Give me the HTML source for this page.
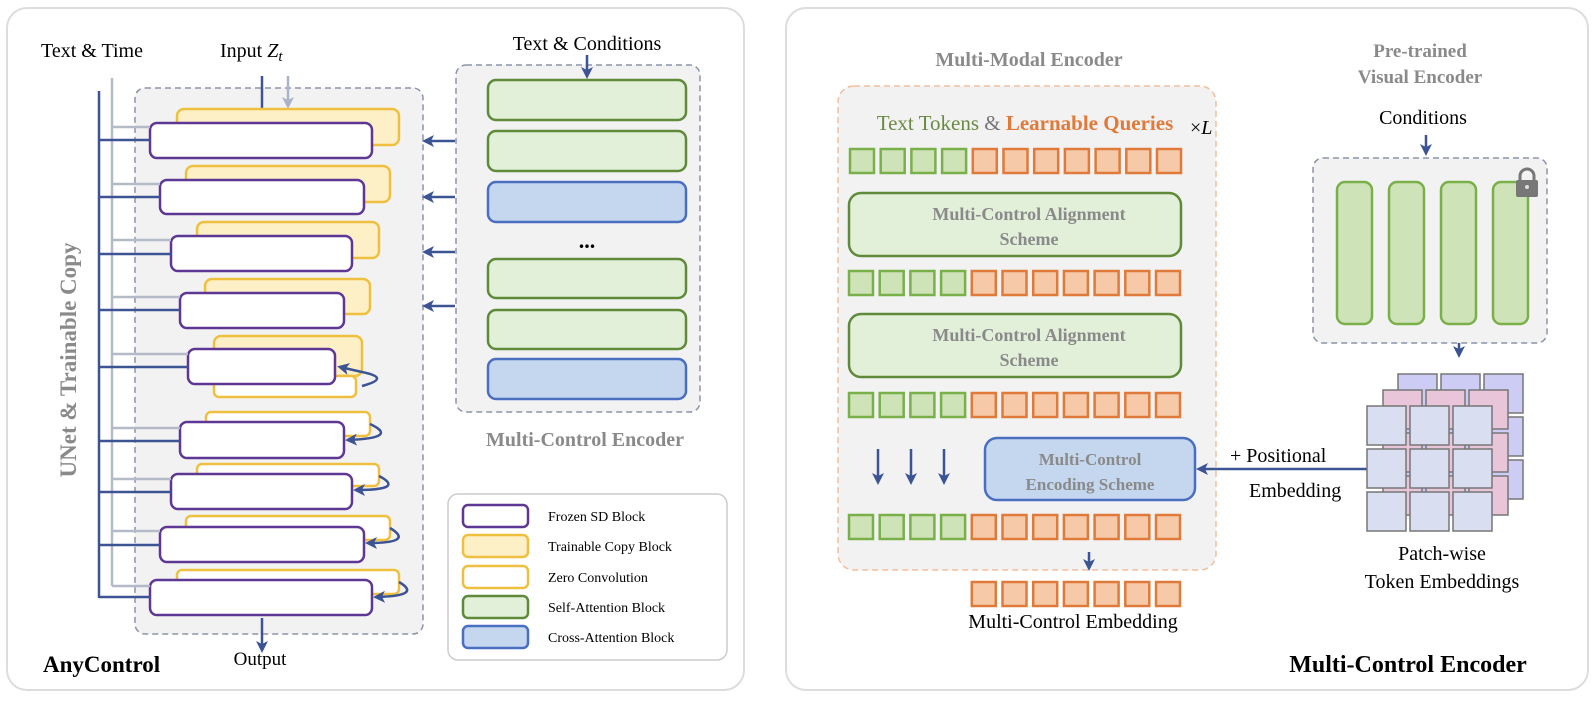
<!DOCTYPE html>
<html><head><meta charset="utf-8"><style>
body{margin:0;background:#fff}
svg{display:block}
text{font-family:"Liberation Serif",serif}
.g{fill:#8a8a8a;font-weight:bold}
</style></head><body>
<svg width="1594" height="702" viewBox="0 0 1594 702" xmlns="http://www.w3.org/2000/svg">
<defs>
<marker id="a" markerWidth="12" markerHeight="12" refX="9" refY="6" orient="auto" markerUnits="userSpaceOnUse"><path d="M0,0 L12,6 L0,12 L3,6 z" fill="#3d5494"/></marker>
<marker id="ag" markerWidth="12" markerHeight="12" refX="9" refY="6" orient="auto" markerUnits="userSpaceOnUse"><path d="M0,0 L12,6 L0,12 L3,6 z" fill="#aab3c8"/></marker>
</defs>
<rect x="7" y="8" width="737" height="682" rx="20" fill="#fff" stroke="#ddd" stroke-width="2"/>
<rect x="786" y="8" width="802" height="682" rx="20" fill="#fff" stroke="#ddd" stroke-width="2"/>

<text x="41" y="57" font-size="20">Text &amp; Time</text>
<text x="220" y="57" font-size="20">Input <tspan font-style="italic">Z</tspan><tspan font-style="italic" font-size="15" dy="4">t</tspan></text>
<rect x="135" y="88" width="288" height="546" rx="10" fill="#f2f2f2" stroke="#8c94a8" stroke-width="1.5" stroke-dasharray="6,4"/>
<line x1="99" y1="91" x2="99" y2="598" stroke="#3d5494" stroke-width="2.5"/>
<line x1="112" y1="78" x2="112" y2="586" stroke="#b4bac8" stroke-width="2.5"/>
<text class="g" font-size="23" transform="translate(76,360) rotate(-90)" text-anchor="middle" fill="#999">UNet &amp; Trainable Copy</text>
<line x1="262" y1="76" x2="262" y2="120" stroke="#3d5494" stroke-width="2.5" marker-end="url(#a)"/>
<line x1="288" y1="76" x2="288" y2="106" stroke="#aab3c8" stroke-width="2.5" marker-end="url(#ag)"/>
<g stroke-width="2.5">
<rect x="177" y="109" width="222" height="36" rx="7" fill="#fdefc6" stroke="#efc03f"/>
<rect x="150" y="123" width="222" height="35" rx="7" fill="#fff" stroke="#5e3795"/>
<rect x="186" y="166" width="204" height="36" rx="7" fill="#fdefc6" stroke="#efc03f"/>
<rect x="160" y="180" width="204" height="34" rx="7" fill="#fff" stroke="#5e3795"/>
<rect x="197" y="222" width="182" height="36" rx="7" fill="#fdefc6" stroke="#efc03f"/>
<rect x="171" y="236" width="181" height="35" rx="7" fill="#fff" stroke="#5e3795"/>
<rect x="205" y="279" width="165" height="35" rx="7" fill="#fdefc6" stroke="#efc03f"/>
<rect x="180" y="293" width="164" height="35" rx="7" fill="#fff" stroke="#5e3795"/>
<rect x="214" y="336" width="148" height="40" rx="7" fill="#fdefc6" stroke="#efc03f"/>
<rect x="214" y="376" width="142" height="21" rx="5" fill="#fff" stroke="#efc03f"/>
<rect x="188" y="349" width="147" height="35" rx="7" fill="#fff" stroke="#5e3795"/>
<rect x="206" y="412" width="164" height="24" rx="5" fill="#fff" stroke="#efc03f"/>
<rect x="180" y="422" width="164" height="36" rx="7" fill="#fff" stroke="#5e3795"/>
<rect x="197" y="464" width="182" height="22" rx="5" fill="#fff" stroke="#efc03f"/>
<rect x="171" y="474" width="181" height="35" rx="7" fill="#fff" stroke="#5e3795"/>
<rect x="186" y="516" width="204" height="24" rx="5" fill="#fff" stroke="#efc03f"/>
<rect x="160" y="527" width="204" height="35" rx="7" fill="#fff" stroke="#5e3795"/>
<rect x="177" y="570" width="222" height="24" rx="5" fill="#fff" stroke="#efc03f"/>
<rect x="150" y="580" width="222" height="35" rx="7" fill="#fff" stroke="#5e3795"/>
</g>
<g fill="none" stroke="#3d5494" stroke-width="2.5">
<path d="M362,386 Q392,378 362,372 L340,367" marker-end="url(#a)"/>
<path d="M370,424 Q400,438 348,440" marker-end="url(#a)"/>
<path d="M379,476 Q406,490 356,490" marker-end="url(#a)"/>
<path d="M390,528 Q415,543 368,543" marker-end="url(#a)"/>
<path d="M399,582 Q423,596 376,597" marker-end="url(#a)"/>
</g>
<g stroke-width="2.5">
<path d="M112,127H150M112,184H160M112,240H171M112,297H180M112,354H188M112,428H180M112,479H171M112,531H160M112,586H150" stroke="#b4bac8"/>
<path d="M99,140H150M99,197H160M99,254H171M99,310H180M99,367H188M99,441H180M99,492H171M99,545H160M99,597H150" stroke="#3d5494"/>
</g>
<line x1="262" y1="618" x2="262" y2="650" stroke="#3d5494" stroke-width="2.5" marker-end="url(#a)"/>
<text x="260" y="665" font-size="19" text-anchor="middle">Output</text>
<text x="43" y="672" font-size="23" font-weight="bold">AnyControl</text>
<g stroke="#3d5494" stroke-width="2.5">
<line x1="455" y1="141" x2="425" y2="141" marker-end="url(#a)"/>
<line x1="455" y1="197" x2="425" y2="197" marker-end="url(#a)"/>
<line x1="455" y1="252" x2="425" y2="252" marker-end="url(#a)"/>
<line x1="455" y1="306" x2="425" y2="306" marker-end="url(#a)"/>
</g>
<text x="587" y="50" font-size="20" text-anchor="middle">Text &amp; Conditions</text>
<rect x="456" y="65" width="244" height="347" rx="10" fill="#f2f2f2" stroke="#8c94a8" stroke-width="1.5" stroke-dasharray="6,4"/>
<line x1="587" y1="55" x2="587" y2="76" stroke="#3d5494" stroke-width="2.5" marker-end="url(#a)"/>
<g stroke-width="2.5">
<rect x="488" y="80" width="198" height="40" rx="8" fill="#e2efd9" stroke="#5f8a3a"/>
<rect x="488" y="131" width="198" height="40" rx="8" fill="#e2efd9" stroke="#5f8a3a"/>
<rect x="488" y="182" width="198" height="40" rx="8" fill="#c5d7ee" stroke="#4a6ec0"/>
<rect x="488" y="259" width="198" height="39" rx="8" fill="#e2efd9" stroke="#5f8a3a"/>
<rect x="488" y="310" width="198" height="39" rx="8" fill="#e2efd9" stroke="#5f8a3a"/>
<rect x="488" y="359" width="198" height="40" rx="8" fill="#c5d7ee" stroke="#4a6ec0"/>
</g>
<text x="587" y="248" font-size="22" font-weight="bold" text-anchor="middle">...</text>
<text class="g" x="585" y="446" font-size="20" text-anchor="middle">Multi-Control Encoder</text>
<rect x="448" y="494" width="279" height="166" rx="10" fill="#fff" stroke="#ccc" stroke-width="1.5"/>
<g stroke-width="2.5">
<rect x="463" y="505" width="65" height="22" rx="5" fill="#fff" stroke="#5e3795"/>
<rect x="463" y="535" width="65" height="22" rx="5" fill="#fdefc6" stroke="#efc03f"/>
<rect x="463" y="566" width="65" height="22" rx="5" fill="#fff" stroke="#efc03f"/>
<rect x="463" y="596" width="65" height="22" rx="5" fill="#e2efd9" stroke="#5f8a3a"/>
<rect x="463" y="626" width="65" height="22" rx="5" fill="#c5d7ee" stroke="#4a6ec0"/>
</g>
<g font-size="14">
<text x="548" y="521">Frozen SD Block</text>
<text x="548" y="551">Trainable Copy Block</text>
<text x="548" y="582">Zero Convolution</text>
<text x="548" y="612">Self-Attention Block</text>
<text x="548" y="642">Cross-Attention Block</text>
</g>

<text class="g" x="1029" y="66" font-size="20" text-anchor="middle">Multi-Modal Encoder</text>
<rect x="838" y="86" width="378" height="484" rx="16" fill="#f2f2f2" stroke="#f0bf9c" stroke-width="1.5" stroke-dasharray="6,4"/>
<text x="1025" y="130" font-size="21" text-anchor="middle"><tspan fill="#6a8a43">Text Tokens</tspan><tspan fill="#777"> &amp; </tspan><tspan fill="#e07a3a" font-weight="bold">Learnable Queries</tspan></text>
<text x="1190" y="134" font-size="20"><tspan>×</tspan><tspan font-style="italic">L</tspan></text>
<g stroke-width="2.5">
<g id="r1">
<rect x="850" y="149" width="24" height="24" fill="#cfe3b8" stroke="#7ab04a"/><rect x="880.7" y="149" width="24" height="24" fill="#cfe3b8" stroke="#7ab04a"/><rect x="911.4" y="149" width="24" height="24" fill="#cfe3b8" stroke="#7ab04a"/><rect x="942.1" y="149" width="24" height="24" fill="#cfe3b8" stroke="#7ab04a"/>
<rect x="972.8" y="149" width="24" height="24" fill="#f6c9a8" stroke="#e07a3a"/><rect x="1003.5" y="149" width="24" height="24" fill="#f6c9a8" stroke="#e07a3a"/><rect x="1034.2" y="149" width="24" height="24" fill="#f6c9a8" stroke="#e07a3a"/><rect x="1064.9" y="149" width="24" height="24" fill="#f6c9a8" stroke="#e07a3a"/><rect x="1095.6" y="149" width="24" height="24" fill="#f6c9a8" stroke="#e07a3a"/><rect x="1126.3" y="149" width="24" height="24" fill="#f6c9a8" stroke="#e07a3a"/><rect x="1157" y="149" width="24" height="24" fill="#f6c9a8" stroke="#e07a3a"/>
</g>
<use href="#r1" x="-1" y="122"/>
<use href="#r1" x="-1" y="244"/>
<use href="#r1" x="-1" y="366"/>
<rect x="971.8" y="582" width="24" height="24" fill="#f6c9a8" stroke="#e07a3a"/><rect x="1002.5" y="582" width="24" height="24" fill="#f6c9a8" stroke="#e07a3a"/><rect x="1033.2" y="582" width="24" height="24" fill="#f6c9a8" stroke="#e07a3a"/><rect x="1063.9" y="582" width="24" height="24" fill="#f6c9a8" stroke="#e07a3a"/><rect x="1094.6" y="582" width="24" height="24" fill="#f6c9a8" stroke="#e07a3a"/><rect x="1125.3" y="582" width="24" height="24" fill="#f6c9a8" stroke="#e07a3a"/><rect x="1156" y="582" width="24" height="24" fill="#f6c9a8" stroke="#e07a3a"/>
<rect x="849" y="193" width="332" height="63" rx="12" fill="#e2efd9" stroke="#5f8a3a"/>
<rect x="849" y="314" width="332" height="63" rx="12" fill="#e2efd9" stroke="#5f8a3a"/>
<rect x="985" y="438" width="210" height="62" rx="12" fill="#c5d7ee" stroke="#4a6ec0"/>
</g>
<g class="g" font-size="18" text-anchor="middle">
<text x="1029" y="220">Multi-Control Alignment</text>
<text x="1029" y="245">Scheme</text>
<text x="1029" y="341">Multi-Control Alignment</text>
<text x="1029" y="366">Scheme</text>
<text x="1090" y="465" font-size="17">Multi-Control</text>
<text x="1090" y="490" font-size="17">Encoding Scheme</text>
</g>
<g stroke="#3d5494" stroke-width="2.5">
<line x1="878" y1="449" x2="878" y2="482" marker-end="url(#a)"/>
<line x1="911" y1="449" x2="911" y2="482" marker-end="url(#a)"/>
<line x1="944" y1="449" x2="944" y2="482" marker-end="url(#a)"/>
<line x1="1089" y1="552" x2="1089" y2="568" marker-end="url(#a)"/>
<line x1="1367" y1="469" x2="1199" y2="469" marker-end="url(#a)"/>
<line x1="1426" y1="135" x2="1426" y2="153" marker-end="url(#a)"/>
<line x1="1459" y1="324" x2="1459" y2="355" marker-end="url(#a)"/>
</g>
<text x="1073" y="628" font-size="20" text-anchor="middle">Multi-Control Embedding</text>
<text class="g" x="1420" y="57" font-size="19" text-anchor="middle">Pre-trained</text>
<text class="g" x="1420" y="83" font-size="19" text-anchor="middle">Visual Encoder</text>
<text x="1423" y="124" font-size="20" text-anchor="middle">Conditions</text>
<rect x="1313" y="158" width="234" height="185" rx="10" fill="#f2f2f2" stroke="#8c94a8" stroke-width="1.5" stroke-dasharray="6,4"/>
<g stroke="#7ab04a" stroke-width="2.5" fill="#cfe3b8">
<rect x="1337" y="182" width="35" height="142" rx="8"/>
<rect x="1389" y="182" width="35" height="142" rx="8"/>
<rect x="1441" y="182" width="35" height="142" rx="8"/>
<rect x="1493" y="182" width="35" height="142" rx="8"/>
</g>
<path d="M1520,181 v-5 a7,7 0 0 1 14,0 v5" fill="none" stroke="#777" stroke-width="3"/>
<rect x="1516" y="180" width="22" height="17" rx="2" fill="#777"/>
<circle cx="1527" cy="187" r="2" fill="#ddd"/>
<g stroke="#777" stroke-width="1.5">
<g fill="#ccccf5"><rect x="1398" y="374" width="39" height="39"/><rect x="1441" y="374" width="39" height="39"/><rect x="1484" y="374" width="39" height="39"/><rect x="1484" y="417" width="39" height="39"/><rect x="1484" y="460" width="39" height="39"/><rect x="1398" y="417" width="39" height="39"/><rect x="1441" y="417" width="39" height="39"/><rect x="1398" y="460" width="39" height="39"/><rect x="1441" y="460" width="39" height="39"/></g>
<g fill="#e8c5d8"><rect x="1383" y="390" width="39" height="39"/><rect x="1426" y="390" width="39" height="39"/><rect x="1469" y="390" width="39" height="39"/><rect x="1383" y="433" width="39" height="39"/><rect x="1426" y="433" width="39" height="39"/><rect x="1469" y="433" width="39" height="39"/><rect x="1383" y="476" width="39" height="39"/><rect x="1426" y="476" width="39" height="39"/><rect x="1469" y="476" width="39" height="39"/></g>
<g fill="#d9dff0"><rect x="1367" y="406" width="39" height="39"/><rect x="1410" y="406" width="39" height="39"/><rect x="1453" y="406" width="39" height="39"/><rect x="1367" y="449" width="39" height="39"/><rect x="1410" y="449" width="39" height="39"/><rect x="1453" y="449" width="39" height="39"/><rect x="1367" y="492" width="39" height="39"/><rect x="1410" y="492" width="39" height="39"/><rect x="1453" y="492" width="39" height="39"/></g>
</g>
<text x="1230" y="462" font-size="20">+ Positional</text>
<text x="1249" y="497" font-size="20">Embedding</text>
<text x="1442" y="560" font-size="20" text-anchor="middle">Patch-wise</text>
<text x="1442" y="588" font-size="20" text-anchor="middle">Token Embeddings</text>
<text x="1408" y="672" font-size="24" font-weight="bold" text-anchor="middle">Multi-Control Encoder</text>
</svg>
</body></html>
